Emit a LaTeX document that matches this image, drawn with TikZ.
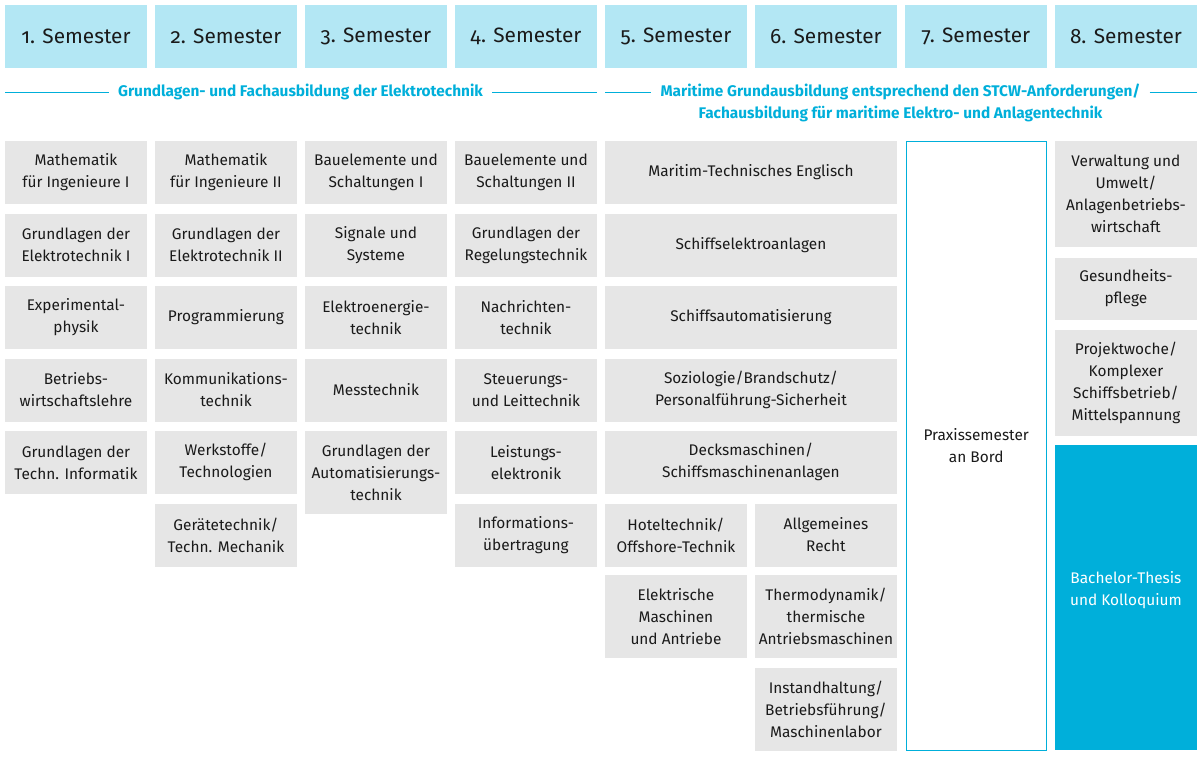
\documentclass[tikz,border=0pt]{standalone}
\usepackage{fontspec}
\setmainfont{Fira Sans}
\newfontfamily\semfont[Numbers=OldStyle]{Fira Sans}
\usetikzlibrary{positioning}
\definecolor{hellblau}{HTML}{B3E7F4}
\definecolor{grau}{HTML}{E6E6E6}
\definecolor{cyanblau}{HTML}{00AFDA}
\definecolor{schrift}{HTML}{1A1A1A}
\tikzset{
  semester/.style={fill=hellblau, anchor=north west, inner sep=0pt,
    minimum width=141.5pt, minimum height=63pt, text=schrift,
    font=\semfont\fontsize{20.8}{24}\selectfont},
  modul/.style={fill=grau, anchor=north west, inner sep=0pt, align=center,
    minimum width=141.5pt, minimum height=63pt, text=schrift,
    font=\fontsize{15.4}{22}\selectfont},
  breit/.style={modul, minimum width=291.5pt},
  hoch/.style={minimum height=83pt},
  bereich/.style={text=cyanblau, inner xsep=9pt, inner ysep=0pt,
    font=\bfseries\fontsize{15.4}{22}\selectfont},
  linie/.style={draw=cyanblau, line width=0.8pt}
}

\begin{document}
\begin{tikzpicture}[x=1pt,y=-1pt]
  \useasboundingbox (0,0) rectangle (1200,756);
  % Semesterkoepfe
  \foreach \i in {1,...,8}
    \node[semester] (sem\i) at ({5+150*(\i-1)},5) {\raisebox{-3pt}{\i. Semester}};

  % Bereiche
  \node[bereich] (grundlagen) at (300.5,92) {Grundlagen- und Fachausbildung der Elektrotechnik};
  \draw[linie] (sem1.south west |- grundlagen.west) -- (grundlagen.west);
  \draw[linie] (grundlagen.east) -- (sem4.south east |- grundlagen.east);
  \node[bereich] (maritim) at (900.5,92) {Maritime Grundausbildung entsprechend den STCW-Anforderungen/};
  \node[bereich] (fach) at (900.5,114) {Fachausbildung für maritime Elektro- und Anlagentechnik};
  \draw[linie] (sem5.south west |- maritim.west) -- (maritim.west);
  \draw[linie] (maritim.east) -- (sem8.south east |- maritim.east);

  % 1. Semester
  \node[modul] (m11) at (5,140.5) {Mathematik\\für Ingenieure I};
  \node[modul] (m12) at (5,213.3) {Grundlagen der\\Elektrotechnik I};
  \node[modul] (m13) at (5,285.7) {Experimental-\\physik};
  \node[modul] (m14) at (5,358.3) {Betriebs-\\wirtschaftslehre};
  \node[modul] (m15) at (5,430.7) {Grundlagen der\\Techn. Informatik};

  % 2. Semester
  \node[modul] (m21) at (155,140.5) {Mathematik\\für Ingenieure II};
  \node[modul] (m22) at (155,213.3) {Grundlagen der\\Elektrotechnik II};
  \node[modul] (m23) at (155,285.7) {Programmierung};
  \node[modul] (m24) at (155,358.3) {Kommunikations-\\technik};
  \node[modul] (m25) at (155,430.7) {Werkstoffe/\\Technologien};
  \node[modul] (m26) at (155,503.3) {Gerätetechnik/\\Techn. Mechanik};

  % 3. Semester
  \node[modul] (m31) at (305,140.5) {Bauelemente und\\Schaltungen I};
  \node[modul] (m32) at (305,213.3) {Signale und\\Systeme};
  \node[modul] (m33) at (305,285.7) {Elektroenergie-\\technik};
  \node[modul] (m34) at (305,358.3) {Messtechnik};
  \node[modul,hoch] (m35) at (305,430.7) {Grundlagen der\\Automatisierungs-\\technik};

  % 4. Semester
  \node[modul] (m41) at (455,140.5) {Bauelemente und\\Schaltungen II};
  \node[modul] (m42) at (455,213.3) {Grundlagen der\\Regelungstechnik};
  \node[modul] (m43) at (455,285.7) {Nachrichten-\\technik};
  \node[modul] (m44) at (455,358.3) {Steuerungs-\\und Leittechnik};
  \node[modul] (m45) at (455,430.7) {Leistungs-\\elektronik};
  \node[modul] (m46) at (455,503.3) {Informations-\\übertragung};

  % 5. und 6. Semester
  \node[breit] (m51) at (605,140.5) {Maritim-Technisches Englisch};
  \node[breit] (m52) at (605,213.3) {Schiffselektroanlagen};
  \node[breit] (m53) at (605,285.7) {Schiffsautomatisierung};
  \node[breit] (m54) at (605,358.3) {Soziologie/Brandschutz/\\Personalführung-Sicherheit};
  \node[breit] (m55) at (605,430.7) {Decksmaschinen/\\Schiffsmaschinenanlagen};
  \node[modul] (m56) at (605,503.3) {Hoteltechnik/\\Offshore-Technik};
  \node[modul,hoch] (m57) at (605,575) {Elektrische\\Maschinen\\und Antriebe};
  \node[modul] (m66) at (755,503.3) {Allgemeines\\Recht};
  \node[modul,hoch] (m67) at (755,575) {Thermodynamik/\\thermische\\Antriebsmaschinen};
  \node[modul,hoch] (m68) at (755,667.3) {Instandhaltung/\\Betriebsführung/\\Maschinenlabor};

  % 7. Semester
  \node[modul, fill=white, draw=cyanblau, line width=1pt, minimum width=140pt,
    minimum height=609pt] (praxis) at (905.7,140.7) {Praxissemester\\an Bord};

  % 8. Semester
  \node[modul, minimum height=106pt] (m81) at (1055,140.7) {Verwaltung und\\Umwelt/\\Anlagenbetriebs-\\wirtschaft};
  \node[modul, minimum height=62pt] (m82) at (1055,257.3) {Gesundheits-\\pflege};
  \node[modul, minimum height=106pt] (m83) at (1055,329.3) {Projektwoche/\\Komplexer\\Schiffsbetrieb/\\Mittelspannung};
  \node[modul, fill=cyanblau, minimum height=305pt] (thesis) at (1055,445) {};
  \node[text=white, align=center, font=\fontsize{15.4}{22}\selectfont]
    (thesistext) at ([yshift=8pt]thesis.center) {Bachelor-Thesis\\und Kolloquium};
\end{tikzpicture}
\end{document}
